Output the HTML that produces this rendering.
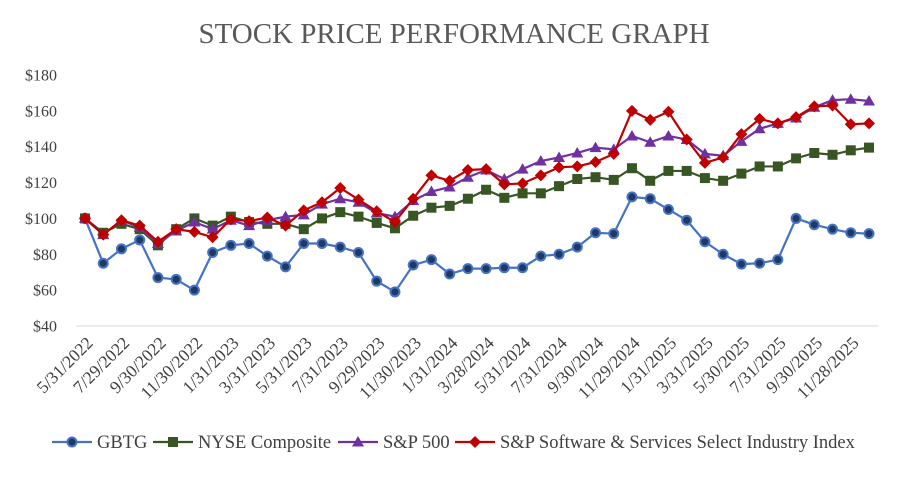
<!DOCTYPE html>
<html><head><meta charset="utf-8"><style>
body{margin:0;background:#fff;}
svg text{font-family:"Liberation Serif",serif;fill:#404040;}
</style></head><body>
<svg id="c" width="905" height="472">
<text x="454" y="43" text-anchor="middle" font-size="29" style="fill:#595959">STOCK PRICE PERFORMANCE GRAPH</text>
<g id="yaxis"></g><g id="xaxis"></g><g id="series"></g><g id="legend"></g>
</svg>
<script>
const dates=["5/31/2022","7/29/2022","9/30/2022","11/30/2022","1/31/2023","3/31/2023","5/31/2023","7/31/2023","9/29/2023","11/30/2023","1/31/2024","3/28/2024","5/31/2024","7/31/2024","9/30/2024","11/29/2024","1/31/2025","3/31/2025","5/30/2025","7/31/2025","9/30/2025","11/28/2025"];
const yTicks=[40,60,80,100,120,140,160,180];
const gbtg=[100,75,83,88,67,66,60,81,85,86,79,73,86,86,84,81,65,59,74,77,69,72,72,72.5,72.5,79,80,84,92,91.5,112,111,105,99,87,80,74.5,75,77,100,96.5,94,92,91.5];
const nyse=[100,92,97,94,85,94,100,96,101,98,97,97,94,100,103.5,101,97.5,94.5,101.5,106,107,111,116,111.5,114,114,118,122,123,121.5,128,121,126.5,126.5,122.5,121,125,129,129,133.5,136.5,135.5,138,139.5];
const sp500=[100,91,99,95,86,93,98,94,99,96,99,101,102,108,111,109,103,101,110,115,117.5,123,127,122,127.5,132,134,136.5,139.5,138.5,146,142.5,146,144,136,135,143,150,153,156,162,166,166.5,165.5];
const software=[100,91,99,96,87,94,92.5,89.5,99.5,98.5,100.5,96,104.5,109,117,110.5,104,98,111,124,121,127,127.5,119,119.5,124,128.5,129,131.5,136,160,155,159.5,144,131,134,147,155.5,153,156.5,162.5,163,152.5,153];
const NS="http://www.w3.org/2000/svg";
const n=gbtg.length;
const x=i=>85+i*(869-85)/(n-1);
const y=v=>326-(v-40)*(251/140);
function mk(tag,attrs,parent){const e=document.createElementNS(NS,tag);for(const k in attrs)e.setAttribute(k,attrs[k]);parent.appendChild(e);return e;}
const ya=document.getElementById('yaxis');
yTicks.forEach(t=>{const e=mk('text',{x:57,y:y(t)+5.5,'text-anchor':'end','font-size':16},ya);


e.textContent='$'+t;});
const xa=document.getElementById('xaxis');
const ax=mk('line',{x1:76,x2:878,y1:326,y2:326,stroke:'#d9d9d9','stroke-width':1},xa);


dates.forEach((d,j)=>{const px=x(j*2)+9;const e=mk('text',{x:px,y:344,'text-anchor':'end','font-size':17.5,transform:`rotate(-45 ${px} 344)`},xa);


e.textContent=d;});
const S=[{name:'GBTG',d:gbtg,c:'#4472c4',m:'circle',key:'gbtg'},{name:'NYSE Composite',d:nyse,c:'#375623',m:'square',key:'nyse'},{name:'S&P 500',d:sp500,c:'#7030a0',m:'tri',key:'sp500'},{name:'S&P Software & Services Select Industry Index',d:software,c:'#c00000',m:'diamond',key:'software'}];
function marker(m,cx,cy,c,g){let e;
if(m==='circle'){e=mk('circle',{cx,cy,r:4.5,fill:'#1f3864',stroke:c,'stroke-width':2},g);}
else if(m==='square'){e=mk('rect',{x:cx-5,y:cy-5,width:10,height:10,fill:c},g);}
else if(m==='tri'){e=mk('polygon',{points:`${cx},${cy-6} ${cx+6},${cy+4.5} ${cx-6},${cy+4.5}`,fill:c},g);}
else{e=mk('polygon',{points:`${cx},${cy-6} ${cx+6},${cy} ${cx},${cy+6} ${cx-6},${cy}`,fill:c},g);}
return e;}
const sg=document.getElementById('series');
S.forEach(s=>{const g=mk('g',{},sg);


const l=mk('polyline',{points:s.d.map((v,i)=>x(i)+','+y(v)).join(' '),fill:'none',stroke:s.c,'stroke-width':2.2},g);


s.d.forEach((v,i)=>{const e=marker(s.m,x(i),y(v),s.c,g);

});});
const lg=document.getElementById('legend');
const lx=[52,153,338,455];
S.forEach((s,i)=>{const g=mk('g',{},lg);


mk('line',{x1:lx[i],x2:lx[i]+40,y1:442,y2:442,stroke:s.c,'stroke-width':2.2},g);
marker(s.m,lx[i]+20,442,s.c,g);
const t=mk('text',{x:lx[i]+45,y:448,'font-size':18.5},g);t.textContent=s.name;});
</script>
</body></html>
